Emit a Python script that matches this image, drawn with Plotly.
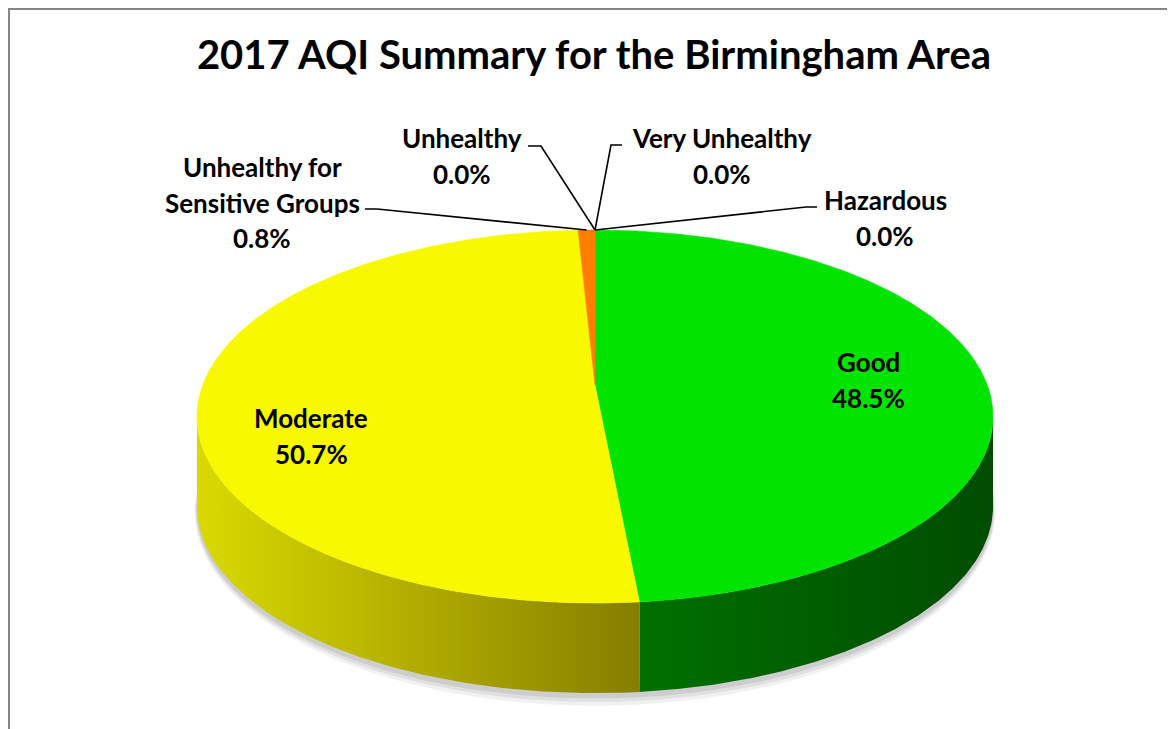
import numpy as np
import plotly.graph_objects as go

# ---- data ----
categories = ["Good", "Moderate", "Unhealthy for Sensitive Groups", "Unhealthy",
              "Very Unhealthy", "Hazardous"]
values = [48.5, 50.7, 0.8, 0.0, 0.0, 0.0]
top_colors = ["#00E400", "#F8F800", "#FF7E00", "#FF0000", "#8F3F97", "#7E0023"]
side_colors = [("#007000", "#004C00"), ("#DADA00", "#867E00"), ("#C05E00", "#A04E00"),
               ("#B00000", "#800000"), ("#6A2E70", "#4F2254"), ("#5E001A", "#400012")]

# ---- geometry (page pixel space; the page body has an 8px margin) ----
W, H = 1175, 729
OFF = 8
cx, cyc = 595, 385          # projected centre of the pie's top face
K, S, E = 392.3, 181.2, 0.169  # horizontal / vertical radius, perspective strength
depth = 90
FONT = "Lato"


def pt(theta_deg, dy=0.0, grow=0.0):
    t = np.radians(theta_deg)
    den = 1 + E * np.cos(t)
    return (cx + (K + grow * 0.3) * np.sin(t) / den,
            cyc - (S + grow) * np.cos(t) / den + dy)


vis1 = np.degrees(np.arccos(-E))
vis2 = 360 - vis1

fig = go.Figure()

# soft shadow under the pie
for grow, op in [(8, 0.10), (5, 0.14), (2, 0.18)]:
    th = np.linspace(60, 300, 200)
    xo, yo = pt(th, depth + 3, grow)
    xi, yi = pt(th[::-1], depth - 10)
    fig.add_trace(go.Scatter(x=list(xo) + list(xi), y=list(yo) + list(yi),
                             fill="toself", mode="lines", line=dict(width=0),
                             fillcolor=f"rgba(120,120,120,{op})",
                             hoverinfo="skip", showlegend=False))

total = sum(values)
starts = np.cumsum([0] + values[:-1]) / total * 360
ends = np.cumsum(values) / total * 360

# side walls (front visible part only)
for i, (s, e) in enumerate(zip(starts, ends)):
    s2, e2 = max(s, vis1), min(e, vis2)
    if values[i] <= 0 or e2 <= s2:
        continue
    th = np.linspace(s2, e2, 160)
    xt, yt = pt(th)
    xb, yb = pt(th[::-1], depth)
    xs = list(xt) + list(xb)
    ys = list(yt) + list(yb)
    c1, c2 = side_colors[i]
    fig.add_trace(go.Scatter(
        x=xs, y=ys, fill="toself", mode="lines", line=dict(width=0),
        fillgradient=dict(type="horizontal", colorscale=[[0, c1], [1, c2]],
                          start=min(xs), stop=max(xs)),
        hoverinfo="skip", showlegend=False))

# top faces
for i, (s, e) in enumerate(zip(starts, ends)):
    if values[i] <= 0:
        continue
    th = np.linspace(s, e, max(int((e - s) * 2), 4))
    xt, yt = pt(th)
    xs = [cx] + list(xt) + [cx]
    ys = [cyc] + list(yt) + [cyc]
    fig.add_trace(go.Scatter(x=xs, y=ys, fill="toself", mode="lines",
                             line=dict(width=0.6, color=top_colors[i]),
                             fillcolor=top_colors[i], hoverinfo="skip",
                             showlegend=False))

# ---- labels ----
inside_pos = {0: (868, 362), 1: (311, 418)}
outside = {
    2: (["Unhealthy for", "Sensitive Groups"], 262, 167, (365, 209), (377, 209)),
    3: (["Unhealthy"], 462, 138, (528, 146), (541, 146)),
    4: (["Very Unhealthy"], 722, 138, (622, 145), (611, 145)),
    5: (["Hazardous"], 885, 200, (817, 207), (806, 207)),
}
LINE_GAP = 35.5
FS = 26

annotations = []


def add_text(x, y, txt):
    annotations.append(dict(x=x, y=y, xref="x", yref="y", text=txt, showarrow=False,
                            font=dict(family=FONT, size=FS, color="black", weight=700),
                            xanchor="center", yanchor="middle"))


for i in inside_pos:
    x0, y0 = inside_pos[i]
    add_text(x0, y0, categories[i])
    add_text(x0, y0 + LINE_GAP, f"{values[i]:.1f}%")

for i, (lines, x0, y0, p1, p2) in outside.items():
    for k, ln in enumerate(lines):
        add_text(x0, y0 + k * LINE_GAP, ln)
    add_text(x0, y0 + len(lines) * LINE_GAP, f"{values[i]:.1f}%")
    mid = (starts[i] + ends[i]) / 2
    ex, ey = pt(mid)
    fig.add_trace(go.Scatter(x=[p1[0], p2[0], ex], y=[p1[1], p2[1], ey], mode="lines",
                             line=dict(color="black", width=1.6),
                             hoverinfo="skip", showlegend=False))

fig.update_layout(
    width=W, height=H,
    margin=dict(l=0, r=0, t=0, b=0),
    paper_bgcolor="white", plot_bgcolor="white",
    xaxis=dict(range=[OFF, W + OFF], visible=False, fixedrange=True),
    yaxis=dict(range=[H + OFF, OFF], visible=False, fixedrange=True),
    title=dict(text="2017 AQI Summary for the Birmingham Area",
               x=(594 - OFF) / W, xanchor="center", y=1 - (55 - OFF) / H,
               yanchor="middle",
               font=dict(family=FONT, size=40, color="black", weight=700)),
    annotations=annotations,
    shapes=[dict(type="rect", xref="paper", yref="paper", x0=1 / W, y0=-0.1,
                 x1=1.2, y1=1 - 1 / H,
                 line=dict(color="#868686", width=2), layer="above")],
    showlegend=False,
)

fig.write_html("out.html")
